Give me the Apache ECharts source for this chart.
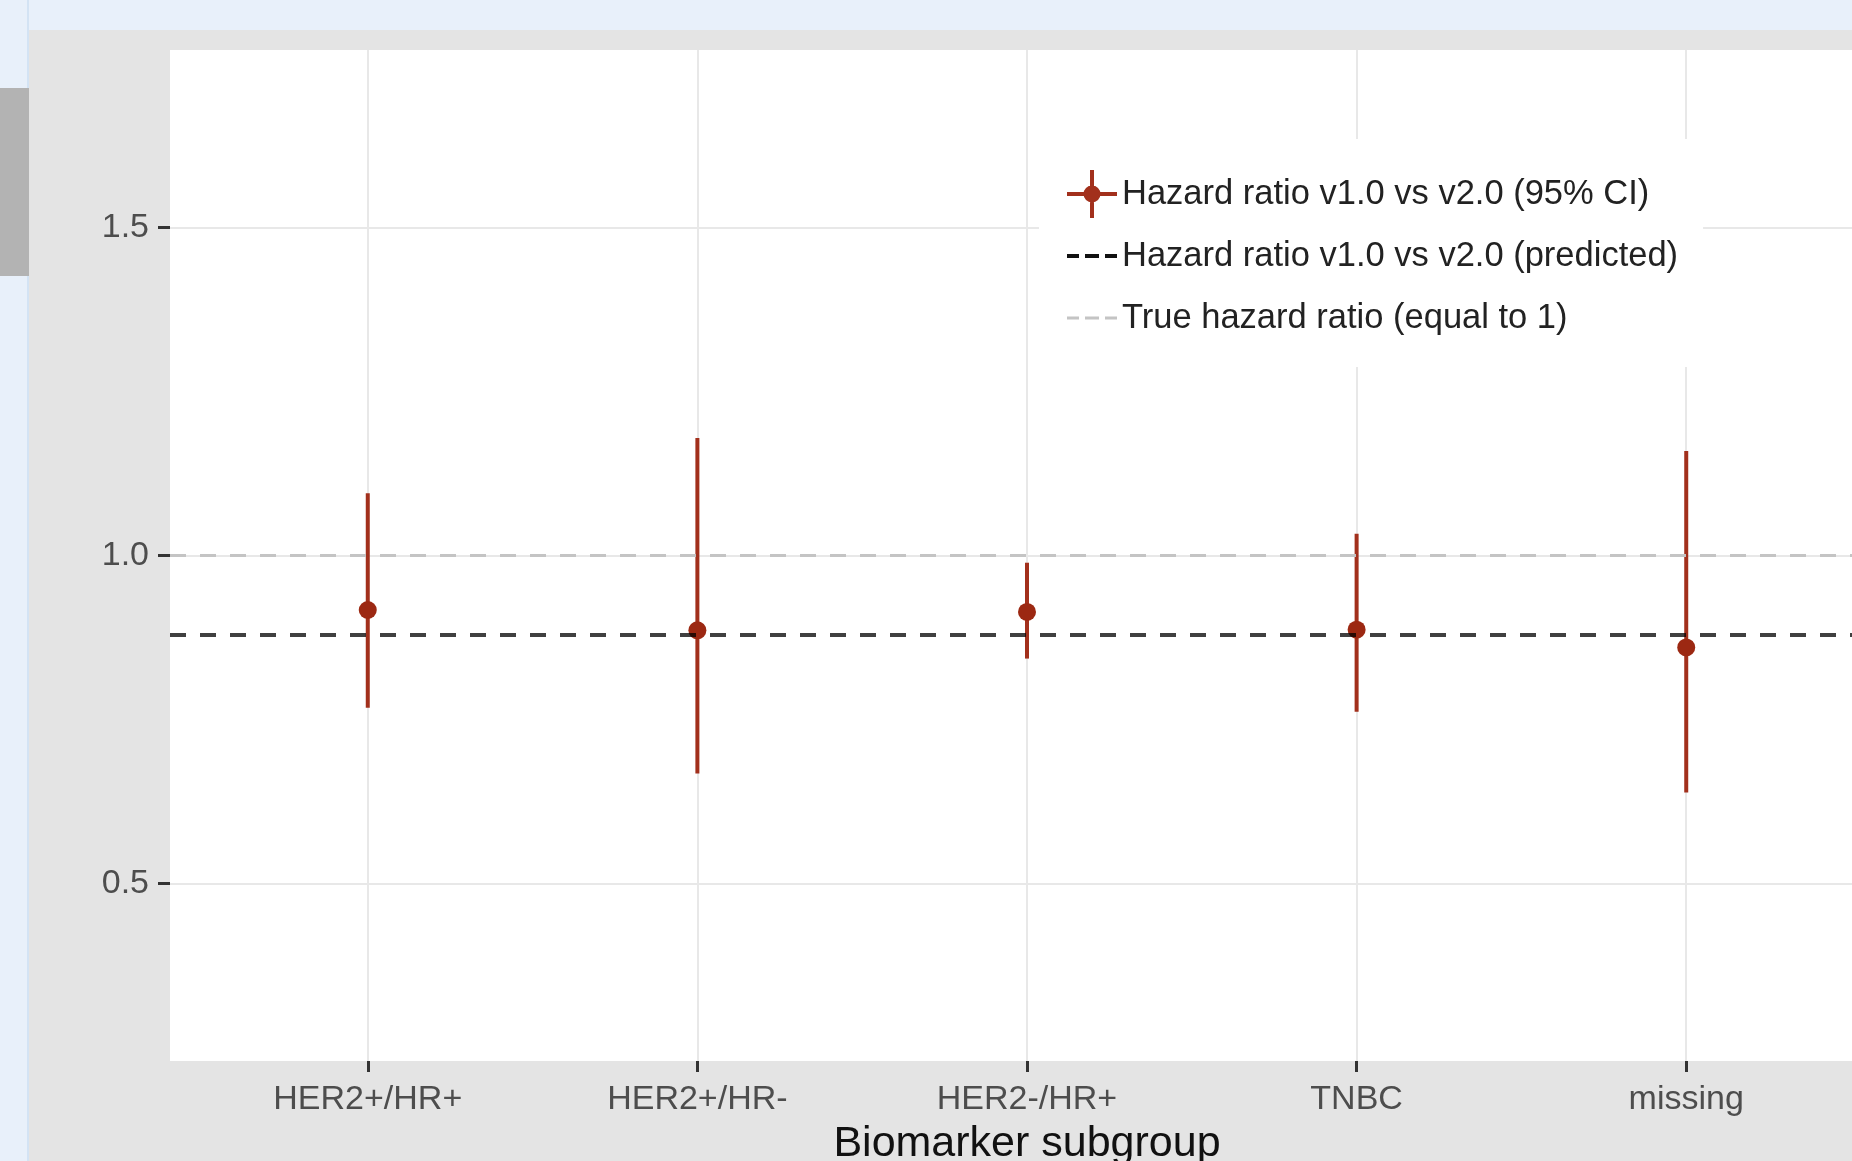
<!DOCTYPE html>
<html>
<head>
<meta charset="utf-8">
<script src="https://cdn.jsdelivr.net/npm/echarts@6/dist/echarts.min.js"></script>
<style>
  html, body { margin: 0; padding: 0; width: 1852px; height: 1161px; overflow: hidden; background: #e8f0fa; }
  #edge { position: absolute; left: 27px; top: 0; width: 2px; height: 1161px; background: #d3e3f4; }
  #scroll { position: absolute; left: 0; top: 88px; width: 29px; height: 188px; background: #b3b3b3; }
  #panel { position: absolute; left: 29px; top: 30px; width: 1823px; height: 1131px; background: #e4e4e4; overflow: hidden; }
  #chart { width: 1900px; height: 1131px; }
</style>
</head>
<body>
<div id="edge"></div>
<div id="scroll"></div>
<div id="panel"><div id="chart"></div></div>
<script>
// values
const categories = ["HER2+/HR+", "HER2+/HR-", "HER2-/HR+", "TNBC", "missing"];
const hazardRatio = [0.917, 0.886, 0.914, 0.887, 0.860];
const ciLower = [0.768, 0.668, 0.843, 0.762, 0.639];
const ciUpper = [1.095, 1.179, 0.989, 1.033, 1.159];
const predictedHR = 0.882;
const trueHR = 1.0;
const yTicks = [0.5, 1.0, 1.5];
const xTicks = categories.map((c, i) => i);

const ciName = "Hazard ratio v1.0 vs v2.0 (95% CI)";
const predName = "Hazard ratio v1.0 vs v2.0 (predicted)";
const trueName = "True hazard ratio (equal to 1)";

const red = "#a2301c";
const font = "'Liberation Sans', Arial, sans-serif";

// legend keys (50 wide)
const crossIcon = "path://M0,22H50V26H0Z M23,0H27V48H23Z M16.5,24a8.5,8.5 0 1,1 17,0a8.5,8.5 0 1,1 -17,0Z";
const darkDashIcon = "path://M0,0H12V4H0Z M18,0H32V4H18Z M38,0H50V4H38Z";
const greyDashIcon = "path://M0,0H12V3H0Z M18,0H32V3H18Z M38,0H50V3H38Z";

const chart = echarts.init(document.getElementById("chart"));

chart.setOption({
  backgroundColor: "transparent",
  animation: false,
  textStyle: { fontFamily: font },
  grid: {
    left: 141, top: 20, width: 1714, height: 1011,
    outerBoundsMode: "none",
    containLabel: false,
    show: true, backgroundColor: "#ffffff", borderWidth: 0,
  },
  legend: {
    orient: "vertical",
    left: 1010,
    top: 109,
    backgroundColor: "#ffffff",
    padding: [31, 25, 25, 28],
    itemWidth: 50,
    itemHeight: 48,
    itemGap: 14,
    selectedMode: false,
    textStyle: { fontSize: 34.5, lineHeight: 48, color: "#222222", fontFamily: font },
    data: [
      { name: ciName, icon: crossIcon, itemStyle: { color: red, borderWidth: 0 } },
      { name: predName, icon: darkDashIcon, itemStyle: { color: "#111111", borderWidth: 0 } },
      { name: trueName, icon: greyDashIcon, itemStyle: { color: "#c4c4c4", borderWidth: 0 } },
    ],
  },
  xAxis: {
    type: "value",
    min: -0.6,
    max: 4.6,
    name: "Biomarker subgroup",
    nameLocation: "middle",
    nameGap: 62,
    nameTextStyle: { fontSize: 43, color: "#111111", fontFamily: font },
    axisLine: { show: false, onZero: false },
    axisTick: { show: true, customValues: xTicks, length: 11, lineStyle: { color: "#333333", width: 3 } },
    axisLabel: {
      customValues: xTicks,
      margin: 22,
      fontSize: 34,
      color: "#4d4d4d",
      fontFamily: font,
      formatter: (v) => categories[Math.round(v)] ?? "",
    },
    splitLine: { show: true, lineStyle: { color: "#e8e8e8", width: 2 } },
  },
  yAxis: {
    type: "value",
    min: 0.23,
    max: 1.77,
    axisLine: { show: false, onZero: false },
    axisTick: { show: true, customValues: yTicks, length: 12, lineStyle: { color: "#333333", width: 3 } },
    axisLabel: {
      customValues: yTicks,
      margin: 21,
      fontSize: 34,
      color: "#4d4d4d",
      fontFamily: font,
      formatter: (v) => v.toFixed(1),
    },
    splitLine: { show: true, lineStyle: { color: "#e8e8e8", width: 2 } },
  },
  series: [
    {
      name: trueName,
      type: "line",
      z: 1,
      data: [],
      color: "#c4c4c4",
      markLine: {
        silent: true,
        symbol: "none",
        label: { show: false },
        lineStyle: { color: "#c4c4c4", width: 3, type: [16, 14] },
        data: [{ yAxis: trueHR }],
      },
    },
    {
      name: ciName,
      type: "custom",
      z: 2,
      data: categories.map((c, i) => [i, ciLower[i], ciUpper[i]]),
      encode: { x: 0, y: [1, 2] },
      renderItem: (params, api) => {
        const x = api.value(0);
        const lo = api.coord([x, api.value(1)]);
        const hi = api.coord([x, api.value(2)]);
        return {
          type: "line",
          shape: { x1: lo[0], y1: lo[1], x2: hi[0], y2: hi[1] },
          style: { stroke: red, lineWidth: 4 },
        };
      },
    },
    {
      name: ciName,
      type: "scatter",
      z: 3,
      symbolSize: 18,
      itemStyle: { color: "#9c2812", opacity: 1 },
      data: hazardRatio.map((v, i) => [i, v]),
    },
    {
      name: predName,
      type: "line",
      z: 4,
      data: [],
      color: "#111111",
      markLine: {
        silent: true,
        symbol: "none",
        label: { show: false },
        lineStyle: { color: "rgba(0,0,0,0.75)", width: 4, type: [16, 14] },
        data: [{ yAxis: predictedHR }],
      },
    },
  ],
});
</script>
</body>
</html>
